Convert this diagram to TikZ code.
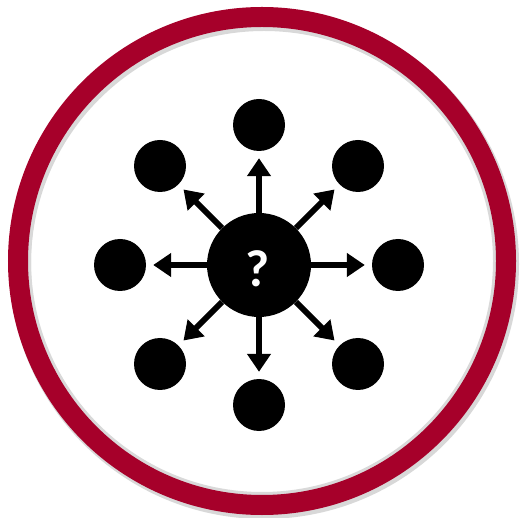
\documentclass[tikz,border=0pt]{standalone}
\usepackage{fontspec}
\setmainfont{Carlito}
\usetikzlibrary{arrows.meta}
\definecolor{ringred}{RGB}{166,0,42}
\tikzset{
  dot/.style={circle,fill=black,inner sep=0pt,minimum size=52pt},
  hub/.style={circle,fill=black,inner sep=0pt,minimum size=104pt},
  arr/.style={line width=6pt,-{Triangle[width=23pt,length=18pt]},shorten >=7pt}
}
\begin{document}
\begin{tikzpicture}[x=1pt,y=-1pt]
\useasboundingbox (0,0) rectangle (522,518);
\fill[white] (0,0) rectangle (522,518);
% shadow
\draw[black!25,line width=22pt,opacity=0.6] (264,264) circle (244);
\draw[black!15,line width=4pt] (262,261) circle (233);
\draw[ringred,line width=20pt] (262,261) circle (244);
% nodes
\node[hub] (c) at (259,265) {};
\node[text=white,font=\fontsize{52}{52}\selectfont\bfseries] (q) at (258,269) {?};
\node[dot] (n) at (259,125) {};
\node[dot] (s) at (259,405) {};
\node[dot] (w) at (120,265) {};
\node[dot] (e) at (398,265) {};
\node[dot] (nw) at (160,166) {};
\node[dot] (ne) at (358,166) {};
\node[dot] (sw) at (160,364) {};
\node[dot] (se) at (358,364) {};
\foreach \t in {n,s,w,e,nw,ne,sw,se} \draw[arr] (c) -- (\t);
\end{tikzpicture}
\end{document}
